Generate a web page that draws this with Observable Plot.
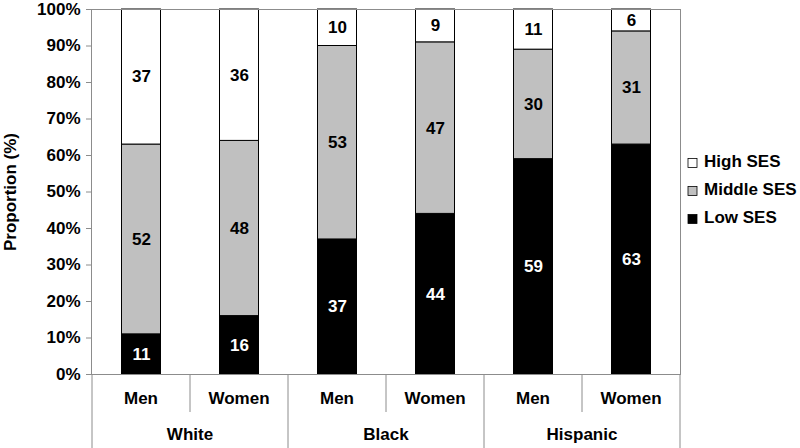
<!DOCTYPE html>
<html><head><meta charset="utf-8">
<script src="https://cdn.jsdelivr.net/npm/d3@7"></script>
<script src="https://cdn.jsdelivr.net/npm/@observablehq/plot@0.6"></script>
<style>
body{margin:0;background:#fff}
svg{font-family:"Liberation Sans",Arial,sans-serif}
</style>
</head><body><div id="chart"></div>
<script>
const groups = ["White","White","Black","Black","Hispanic","Hispanic"];
const sexes = ["Men","Women","Men","Women","Men","Women"];
const groupNames = ["White","Black","Hispanic"];
const sesLevels = ["Low SES","Middle SES","High SES"];
const lowSES = [11,16,37,44,59,63];
const middleSES = [52,48,53,47,30,31];
const highSES = [37,36,10,9,11,6];
const yTicks = [0,10,20,30,40,50,60,70,80,90,100];
const sesColors = ["#000000","#c0c0c0","#ffffff"];
const legendOrder = ["High SES","Middle SES","Low SES"];

const keys = groups.map((g,i)=> g+"|"+sexes[i]);
const rows = [];
keys.forEach((k,i)=>{
  rows.push({key:k, ses:"Low SES", value: lowSES[i]});
  rows.push({key:k, ses:"Middle SES", value: middleSES[i]});
  rows.push({key:k, ses:"High SES", value: highSES[i]});
});

const frameColor = "#8c8c8c";
const FS = 17;

const plot = Plot.plot({
  width: 800, height: 448,
  marginLeft: 91, marginRight: 120, marginTop: 9, marginBottom: 74,
  style: {fontFamily: '"Liberation Sans", Arial, sans-serif', fontSize: FS + "px", fontWeight: "bold", background: "white", overflow: "visible", color: "black"},
  x: {domain: keys, paddingInner: 0, paddingOuter: 0, axis: null},
  y: {domain: [0,100]},
  color: {domain: sesLevels, range: sesColors},
  marks: [
    Plot.barY(rows, {x: "key", y: "value", z: "ses", fill: "ses", stroke: "black", strokeWidth: 1, insetLeft: 29.5, insetRight: 29.5}),
    Plot.text(rows, Plot.stackY({x: "key", y: "value", z: "ses", text: d => d.ses === "Low SES" ? String(d.value) : null, fill: "white", fontSize: FS, fontWeight: "bold"})),
    Plot.text(rows, Plot.stackY({x: "key", y: "value", z: "ses", text: d => d.ses !== "Low SES" ? String(d.value) : null, fill: "black", fontSize: FS, fontWeight: "bold"})),
    Plot.frame({stroke: frameColor}),
    Plot.axisY(yTicks, {tickFormat: d => d + "%", tickSize: 5, tickPadding: 6, stroke: frameColor, fill: "black", fontSize: FS, fontWeight: "bold",
      label: "Proportion (%)", labelAnchor: "center", labelOffset: 88, labelArrow: "none"})
  ]
});

document.getElementById("chart").appendChild(plot);

const xs = plot.scale("x");
const ys = plot.scale("y");
const bw = xs.bandwidth;
const y0 = ys.apply(0);
const svg = d3.select(plot);
const H = 448;
const g = svg.append("g").attr("font-family", '"Liberation Sans", Arial, sans-serif').attr("font-weight", "bold").attr("font-size", FS);

// vertical separators
const left = xs.apply(keys[0]);
g.append("line").attr("x1", left).attr("x2", left).attr("y1", y0).attr("y2", H).attr("stroke", frameColor);
groupNames.forEach(gn => {
  const ks = keys.filter((k,i) => groups[i] === gn);
  const gx0 = xs.apply(ks[0]);
  const gx1 = xs.apply(ks[ks.length-1]) + bw;
  g.append("line").attr("x1", gx1).attr("x2", gx1).attr("y1", y0).attr("y2", H).attr("stroke", frameColor);
  for (let j = 1; j < ks.length; j++) {
    const sx = xs.apply(ks[j]);
    g.append("line").attr("x1", sx).attr("x2", sx).attr("y1", y0).attr("y2", y0 + 38).attr("stroke", frameColor);
  }
  g.append("text").attr("x", (gx0 + gx1) / 2).attr("y", y0 + 62).attr("text-anchor", "middle").attr("dominant-baseline", "middle").attr("fill", "black").text(gn);
});
keys.forEach((k,i) => {
  g.append("text").attr("x", xs.apply(k) + bw/2).attr("y", y0 + 26).attr("text-anchor", "middle").attr("dominant-baseline", "middle").attr("fill", "black").text(sexes[i]);
});

// legend
const legendX = xs.apply(keys[keys.length-1]) + bw + 8;
const colorScale = plot.scale("color");
legendOrder.forEach((lv, i) => {
  const cy = 163 + i * 28;
  g.append("rect").attr("x", legendX).attr("y", cy - 4.5).attr("width", 9).attr("height", 9)
    .attr("fill", colorScale.apply(lv)).attr("stroke", "black").attr("stroke-width", 0.8);
  g.append("text").attr("x", legendX + 16).attr("y", cy).attr("text-anchor", "start").attr("dominant-baseline", "middle").attr("fill", "black").text(lv);
});
</script>
</body></html>
